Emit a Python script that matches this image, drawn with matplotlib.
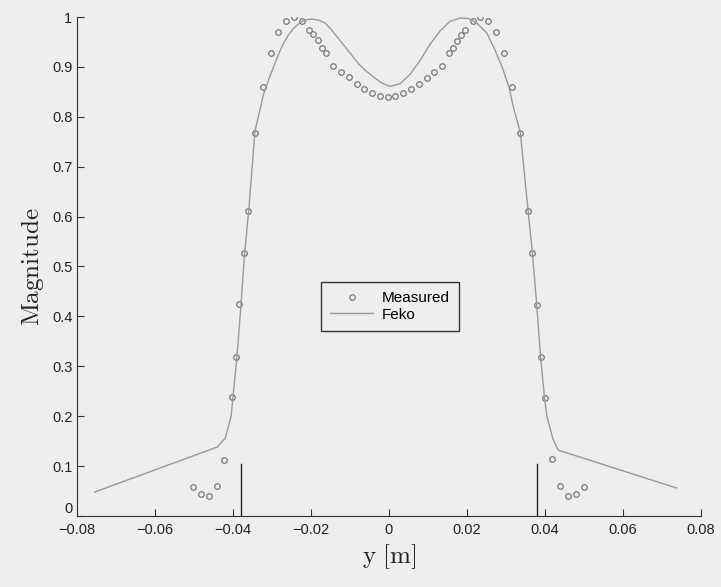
import matplotlib
matplotlib.use("Agg")
import matplotlib.pyplot as plt

# measured samples
meas_y = [-0.0502, -0.0482, -0.0462, -0.0442, -0.0422, -0.0403, -0.0393, -0.0384,
          -0.0373, -0.0362, -0.0344, -0.0322, -0.0303, -0.0284, -0.0264, -0.0244,
          -0.0223, -0.0204, -0.0194, -0.0183, -0.0173, -0.0162, -0.0144, -0.0123,
          -0.0103, -0.0083, -0.0063, -0.0043, -0.0023, -0.0003, 0.0016, 0.0037,
          0.0056, 0.0076, 0.0097, 0.0116, 0.0136, 0.0155, 0.0165, 0.0175, 0.0186,
          0.0196, 0.0215, 0.0234, 0.0255, 0.0275, 0.0295, 0.0316, 0.0337, 0.0357,
          0.0368, 0.0379, 0.0389, 0.0399, 0.0419, 0.0440, 0.0460, 0.0480, 0.0500]
meas_mag = [0.058, 0.044, 0.040, 0.061, 0.112, 0.239, 0.319, 0.424,
            0.528, 0.612, 0.768, 0.859, 0.927, 0.969, 0.993, 1.000,
            0.992, 0.973, 0.965, 0.953, 0.938, 0.927, 0.902, 0.889,
            0.879, 0.865, 0.856, 0.847, 0.841, 0.840, 0.842, 0.847,
            0.855, 0.865, 0.878, 0.889, 0.902, 0.927, 0.938, 0.952, 0.964,
            0.973, 0.992, 1.000, 0.993, 0.969, 0.927, 0.859, 0.768, 0.611,
            0.527, 0.423, 0.318, 0.237, 0.114, 0.061, 0.041, 0.044, 0.059]

# Feko simulation (traced)
feko_y = [-0.0755, -0.0441, -0.042, -0.0405, -0.040, -0.039, -0.038, -0.037,
          -0.036, -0.0344, -0.0322, -0.0309, -0.0296, -0.0284, -0.0271, -0.0258,
          -0.0245, -0.0228, -0.0215, -0.0198, -0.0181, -0.0164, -0.0147, -0.0130,
          -0.0113, -0.0096, -0.0079, -0.0062, -0.0040, -0.0019, 0.0003, 0.0028,
          0.0054, 0.0079, 0.0105, 0.0131, 0.0156, 0.0182, 0.0204, 0.0225, 0.0251,
          0.0272, 0.0293, 0.0308, 0.0319, 0.0337, 0.0357, 0.0368, 0.0379, 0.0389,
          0.0399, 0.0405, 0.042, 0.0434, 0.0738]
feko_mag = [0.048, 0.138, 0.156, 0.20, 0.24, 0.32, 0.42, 0.53,
            0.61, 0.77, 0.845, 0.874, 0.900, 0.924, 0.947, 0.964,
            0.977, 0.989, 0.994, 0.996, 0.994, 0.988, 0.974, 0.957,
            0.941, 0.924, 0.907, 0.894, 0.880, 0.868, 0.861, 0.866,
            0.885, 0.912, 0.945, 0.972, 0.991, 0.998, 0.997, 0.988, 0.968,
            0.934, 0.894, 0.859, 0.82, 0.768, 0.611, 0.527, 0.423, 0.318,
            0.237, 0.20, 0.156, 0.132, 0.056]

# edge markers
edge_y = [-0.038, 0.038]
edge_h = 0.105

plt.rcParams['mathtext.fontset'] = 'cm'
plt.rcParams['font.family'] = 'Liberation Sans'

bg = '#eeeeec'
fig = plt.figure(figsize=(7.21, 5.87), dpi=100, facecolor=bg)
ax = fig.add_axes([0.107, 0.121, 0.865, 0.85])
ax.set_facecolor(bg)

ax.plot(meas_y, meas_mag, 'o', mfc='none', mec='#777777', ms=4, mew=0.9, label='Measured')
ax.plot(feko_y, feko_mag, '-', color='#999999', lw=1.0, label='Feko')
for e in edge_y:
    ax.plot([e, e], [0, edge_h], color='#222222', lw=1.0)

ax.set_xlim(-0.08, 0.08)
ax.set_ylim(0, 1)
ax.set_xticks([-0.08, -0.06, -0.04, -0.02, 0, 0.02, 0.04, 0.06, 0.08])
ax.set_xticklabels(['\u22120.08', '\u22120.06', '\u22120.04', '\u22120.02', '0',
                    '0.02', '0.04', '0.06', '0.08'])
ax.set_yticks([0, 0.1, 0.2, 0.3, 0.4, 0.5, 0.6, 0.7, 0.8, 0.9, 1])
ax.set_yticklabels(['0', '0.1', '0.2', '0.3', '0.4', '0.5', '0.6', '0.7', '0.8', '0.9', '1'])
ax.tick_params(direction='in', length=5, labelsize=10.5, color='#333333', labelcolor='#222222')
ax.tick_params(axis='x', pad=5)
# the "0" sits a little above the axis, clear of "-0.08"
ax.get_yticklabels()[0].set_verticalalignment('bottom')
ax.spines['top'].set_visible(False)
ax.spines['right'].set_visible(False)
for s in ['left', 'bottom']:
    ax.spines[s].set_color('#333333')

ax.set_xlabel(r'$\mathrm{y\ [m]}$', fontsize=18, color='#222222')
ax.set_ylabel(r'$\mathrm{Magnitude}$', fontsize=18, color='#222222')

leg = ax.legend(loc='center', bbox_to_anchor=(0.502, 0.42), fontsize=11,
                fancybox=False, framealpha=1, facecolor=bg, edgecolor='#333333',
                borderpad=0.6, handlelength=2.8, labelspacing=0.15,
                borderaxespad=0, handletextpad=0.6)
leg.get_frame().set_linewidth(1.0)

fig.savefig('out.png', dpi=100, facecolor=bg)
